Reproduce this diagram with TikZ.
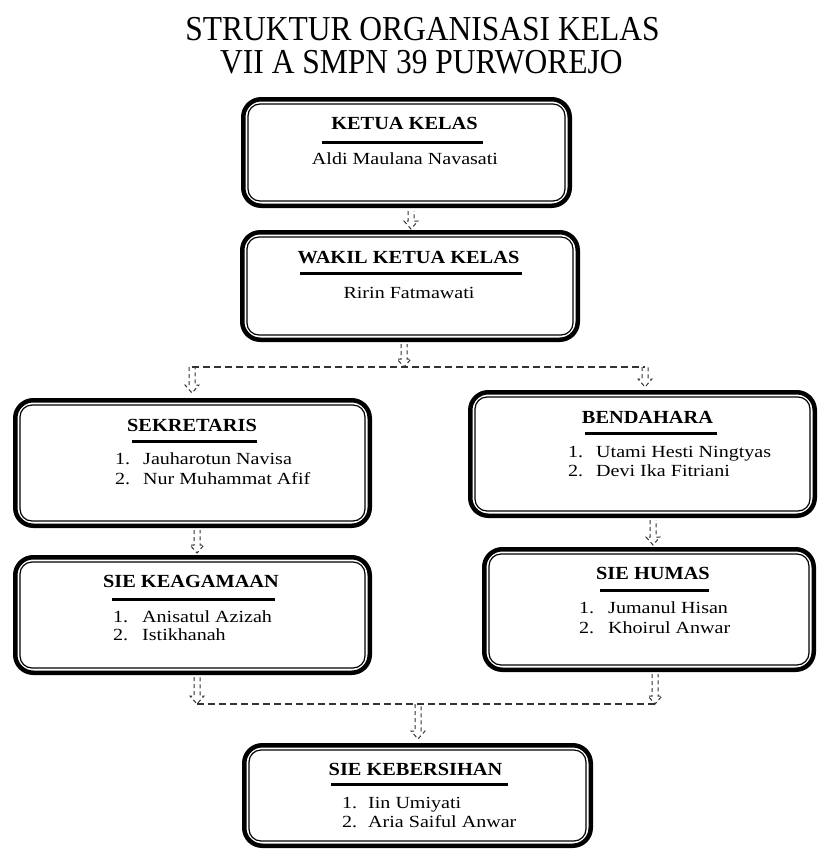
\documentclass[tikz,border=0pt]{standalone}
\usepackage{fontspec}
\setmainfont{Liberation Serif}
\newfontfamily\titlefont[FakeStretch=0.9]{Liberation Serif}
\newfontfamily\headfont[FakeStretch=1.1]{Liberation Serif}
\newfontfamily\namefont[FakeStretch=1.18]{Liberation Serif}
\tikzset{
  ttl/.style={font=\titlefont\fontsize{35}{40}\selectfont, anchor=base, inner sep=0pt},
  head/.style={font=\headfont\bfseries\fontsize{18.5}{22}\selectfont, anchor=base, inner sep=0pt},
  nm/.style={font=\namefont\fontsize{17}{20}\selectfont, anchor=base, inner sep=0pt},
  itm/.style={font=\namefont\fontsize{17}{20}\selectfont, anchor=base west, inner sep=0pt},
  obox/.style={draw, line width=4.5pt, rounded corners=18pt, inner sep=0pt},
  ibox/.style={draw, line width=1.2pt, rounded corners=12pt},
  uline/.style={line width=3pt},
  arrowline/.style={draw=black!80, line width=1pt, dash pattern=on 4pt off 3pt},
  conn/.style={draw=black!80, line width=1.2pt, dash pattern=on 7pt off 4pt}
}
\newcommand\orgbox[5]{%
  \node[obox, minimum width=#4pt-4.5pt, minimum height=#5pt-4.5pt] (#1) at (#2,#3) {};
  \draw[ibox] ([shift={(7,7)}]#1.north west) rectangle ([shift={(-7,-7)}]#1.south east);
}
\newcommand\blockarrow[4]{%
  \coordinate (#1-t) at (#2,#3);
  \coordinate (#1-b) at (#2,#4);
  \draw[arrowline] (#2-3,#3) -- (#2-3,#4-8) -- (#2-7,#4-8) -- (#1-b) -- (#2+7,#4-8) -- (#2+3,#4-8) -- (#2+3,#3);
}
\begin{document}
\begin{tikzpicture}[x=1pt,y=-1pt]
\useasboundingbox (0,0) rectangle (818,849);

% title
\node[ttl] (t1) at (422.5,40) {STRUKTUR ORGANISASI KELAS};
\node[ttl] (t2) at (421.5,73) {VII A SMPN 39 PURWOREJO};

% boxes
\orgbox{ketua}{406.5}{152.5}{331}{111}
\orgbox{wakil}{410}{286}{340}{112}
\orgbox{sek}{192.5}{463}{359}{130}
\orgbox{agama}{192.5}{615}{359}{120}
\orgbox{bend}{642.5}{454}{349}{128}
\orgbox{humas}{649}{609.5}{334}{125}
\orgbox{bersih}{417.5}{795.5}{351}{105}

% ketua
\node[head] (h1) at (404.5,129) {KETUA KELAS};
\draw[uline] (322,142) -- (483,142);
\node[nm] (n1) at (405,164) {Aldi Maulana Navasati};

% wakil
\node[head] (h2) at (408.5,263) {WAKIL KETUA KELAS};
\draw[uline] (300,273) -- (522,273);
\node[nm] (n2) at (409,298) {Ririn Fatmawati};

% sekretaris
\node[head] (h3) at (192,431) {SEKRETARIS};
\draw[uline] (132,441) -- (257,441);
\node[itm] (s1n) at (115,464) {1.};
\node[itm] (s1) at (143,464) {Jauharotun Navisa};
\node[itm] (s2n) at (115,484) {2.};
\node[itm] (s2) at (143,484) {Nur Muhammat Afif};

% keagamaan
\node[head] (h4) at (191,587) {SIE KEAGAMAAN};
\draw[uline] (112,599) -- (275,599);
\node[itm] (k1n) at (113,622) {1.};
\node[itm] (k1) at (142,622) {Anisatul Azizah};
\node[itm] (k2n) at (113,640) {2.};
\node[itm] (k2) at (142,640) {Istikhanah};

% bendahara
\node[head] (h5) at (647.5,423) {BENDAHARA};
\draw[uline] (585,433) -- (717,433);
\node[itm] (b1n) at (568,457) {1.};
\node[itm] (b1) at (596,457) {Utami Hesti Ningtyas};
\node[itm] (b2n) at (568,476) {2.};
\node[itm] (b2) at (596,476) {Devi Ika Fitriani};

% humas
\node[head] (h6) at (653,579) {SIE HUMAS};
\draw[uline] (600,590) -- (709,590);
\node[itm] (u1n) at (579,613) {1.};
\node[itm] (u1) at (608,613) {Jumanul Hisan};
\node[itm] (u2n) at (579,633) {2.};
\node[itm] (u2) at (608,633) {Khoirul Anwar};

% kebersihan
\node[head] (h7) at (415.5,775) {SIE KEBERSIHAN};
\draw[uline] (331,784) -- (508,784);
\node[itm] (e1n) at (342,808) {1.};
\node[itm] (e1) at (368,808) {Iin Umiyati};
\node[itm] (e2n) at (342,827) {2.};
\node[itm] (e2) at (368,827) {Aria Saiful Anwar};

% arrows
\blockarrow{a1}{411}{211}{229}
\blockarrow{a2}{404}{344}{367}
\blockarrow{a3}{192}{367}{393}
\blockarrow{a4}{645}{367}{387}
\blockarrow{a5}{197}{530}{553}
\blockarrow{a6}{653}{520}{545}
\blockarrow{a7}{197}{677}{704}
\blockarrow{a8}{655}{674}{704}
\blockarrow{a9}{418}{704}{739}

% connectors
\draw[conn] (a3-t) -- (a2-b) -- (a4-t);
\draw[conn] (a7-b) -- (a9-t) -- (a8-b);
\end{tikzpicture}
\end{document}
